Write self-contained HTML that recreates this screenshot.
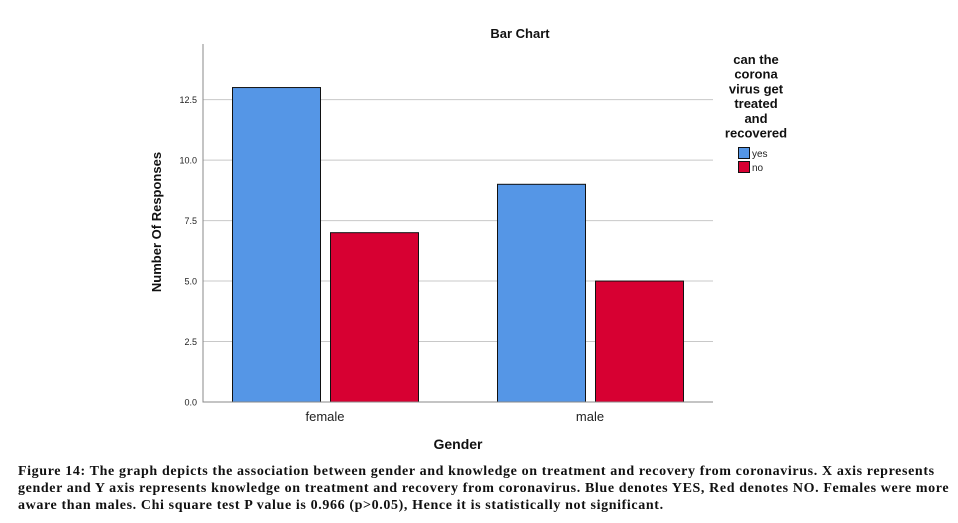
<!DOCTYPE html>
<html><head><meta charset="utf-8"><style>
body{margin:0;background:#fff;width:958px;height:523px;overflow:hidden;font-family:"Liberation Sans",sans-serif}
#cap{position:absolute;left:18px;top:463px;width:936px;font-family:"Liberation Serif",serif;font-weight:bold;font-size:14px;letter-spacing:0.62px;line-height:17px;color:#111}
</style></head><body>
<svg id="chart" width="958" height="460" style="position:absolute;left:0;top:0" font-family="Liberation Sans, sans-serif"></svg>
<div id="cap">Figure 14: The graph depicts the association between gender and knowledge on treatment and recovery from coronavirus. X axis represents gender and Y axis represents knowledge on treatment and recovery from coronavirus. Blue denotes YES, Red denotes NO. Females were more aware than males. Chi square test P value is 0.966 (p&gt;0.05), Hence it is statistically not significant.</div>
<script>
const categories=["female","male"];
const yesValues=[13,9];
const noValues=[7,5];
const yTicks=[0,2.5,5,7.5,10,12.5];
const yTickLabels=["0.0","2.5","5.0","7.5","10.0","12.5"];
const NS="http://www.w3.org/2000/svg";
const svg=document.getElementById('chart');
const L=203,R=713,T=44,B=402,yMax=14.8;
const y=v=>B-(v/yMax)*(B-T);
const pad=122,step=265;
const xc=i=>L+pad+step*i;
function mk(t,a,txt){const e=document.createElementNS(NS,t);for(const k in a)e.setAttribute(k,a[k]);if(txt!==undefined)e.textContent=txt;svg.appendChild(e);return e;}
yTicks.forEach((t,i)=>{
 if(t>0){const g=mk('line',{x1:L,x2:R,y1:y(t),y2:y(t),stroke:'#c8c8c8','stroke-width':1});
 }
 const tl=mk('text',{x:197,y:y(t)+3.5,'text-anchor':'end','font-size':9,fill:'#222'},yTickLabels[i]);
 
});
const barW=88,gap=10;
categories.forEach((c,i)=>{
 const cx=xc(i);
 const b1=mk('rect',{x:cx-gap/2-barW+0.5,y:y(yesValues[i]),width:barW,height:B-y(yesValues[i]),fill:'#5596e6',stroke:'#111','stroke-width':1});
 
 const b2=mk('rect',{x:cx+gap/2+0.5,y:y(noValues[i]),width:barW,height:B-y(noValues[i]),fill:'#d70032',stroke:'#111','stroke-width':1});
 
 const xl=mk('text',{x:cx,y:421,'text-anchor':'middle','font-size':13,fill:'#222'},c);
 
});
const ax=mk('path',{d:`M${L} ${T}V${B}H${R}`,fill:'none',stroke:'#888','stroke-width':1});

const ti=mk('text',{x:520,y:38,'text-anchor':'middle','font-size':13,'font-weight':'bold',fill:'#111'},'Bar Chart');

const xt=mk('text',{x:458,y:449,'text-anchor':'middle','font-size':14,'font-weight':'bold',fill:'#111'},'Gender');

const yt=mk('text',{x:0,y:0,transform:'translate(161,222) rotate(-90)','text-anchor':'middle','font-size':13,'font-weight':'bold',fill:'#111'},'Number Of Responses');

["can the","corona","virus get","treated","and","recovered"].forEach((s,i)=>{
 const t=mk('text',{x:756,y:64+i*14.7,'text-anchor':'middle','font-size':13,'font-weight':'bold',fill:'#111'},s);
 
});
[["yes","#5596e6"],["no","#d70032"]].forEach((d,i)=>{
 const r=mk('rect',{x:738.5,y:147.5+i*14,width:11,height:11,fill:d[1],stroke:'#111','stroke-width':1});
 
 const t=mk('text',{x:752,y:157+i*14,'font-size':10,fill:'#222'},d[0]);
 
});
</script>
</body></html>
